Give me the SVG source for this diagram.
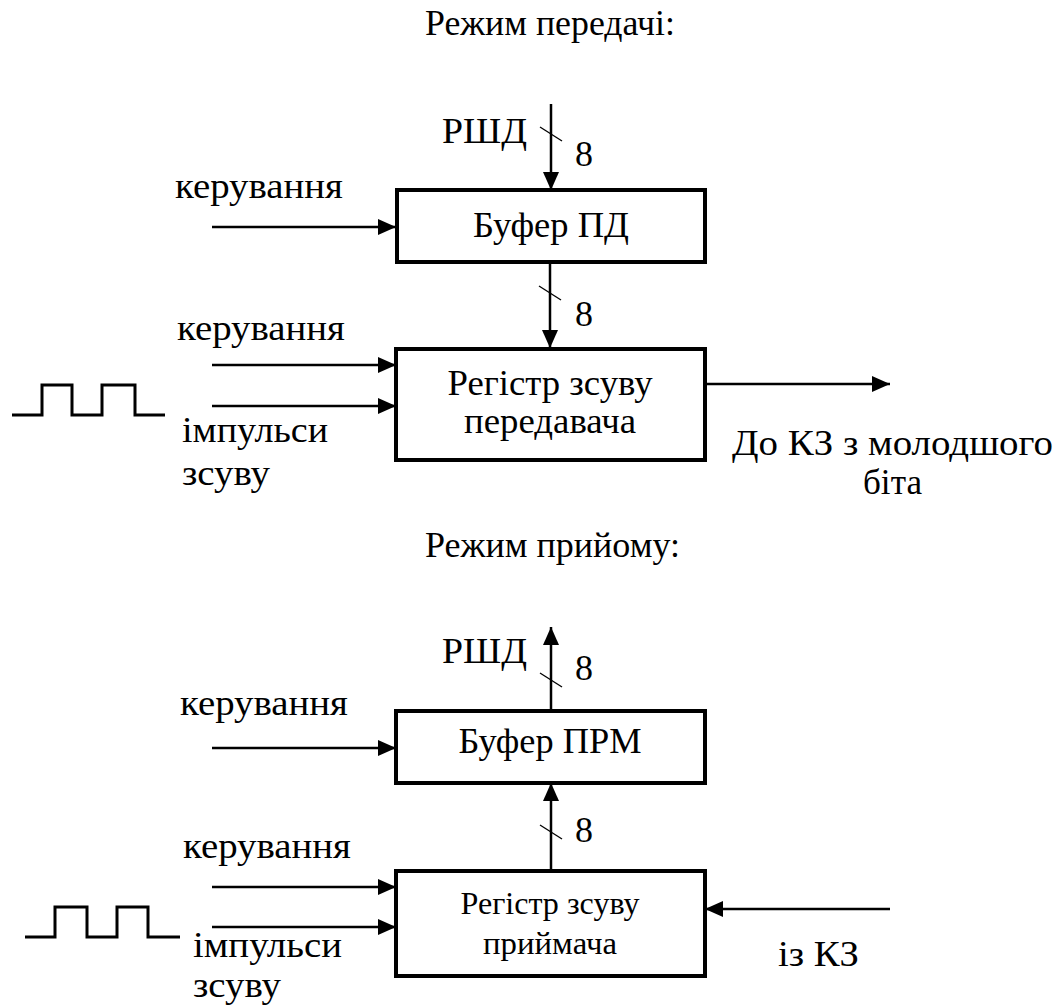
<svg xmlns="http://www.w3.org/2000/svg" width="1061" height="1005" viewBox="0 0 1061 1005">
<style>
text{font-family:'Liberation Serif','Times New Roman',serif;font-size:36px;fill:#000}
.c{text-anchor:middle}
.s{font-size:31px}
.box{fill:#fff;stroke:#000;stroke-width:4}
.ln{stroke:#000;stroke-width:2.5;fill:none}
.sl{stroke:#000;stroke-width:1.3;fill:none}
.pulse{stroke:#000;stroke-width:3;fill:none}
</style>
<defs>
<marker id="ah" markerUnits="userSpaceOnUse" markerWidth="18" markerHeight="16" refX="18" refY="8" orient="auto">
<path d="M0,0 L18,8 L0,16 Z" fill="#000"/>
</marker>
</defs>
<rect width="1061" height="1005" fill="#fff"/>
<text x="425" y="35" textLength="250" lengthAdjust="spacingAndGlyphs">Режим передачі:</text>
<text x="425" y="557" textLength="255" lengthAdjust="spacingAndGlyphs">Режим прийому:</text>

<g id="connectors">
<line class="ln" x1="551" y1="104" x2="551" y2="190" marker-end="url(#ah)"/>
<line class="sl" x1="540" y1="127" x2="562" y2="141"/>
<line class="ln" x1="212" y1="227" x2="396" y2="227" marker-end="url(#ah)"/>
<line class="ln" x1="550" y1="262" x2="550" y2="348" marker-end="url(#ah)"/>
<line class="sl" x1="539" y1="286" x2="561" y2="300"/>
<line class="ln" x1="212" y1="365" x2="396" y2="365" marker-end="url(#ah)"/>
<line class="ln" x1="212" y1="406" x2="396" y2="406" marker-end="url(#ah)"/>
<line class="ln" x1="705" y1="384" x2="890" y2="384" marker-end="url(#ah)"/>

<line class="ln" x1="551" y1="711" x2="551" y2="627" marker-end="url(#ah)"/>
<line class="sl" x1="540" y1="673" x2="562" y2="687"/>
<line class="ln" x1="212" y1="748" x2="396" y2="748" marker-end="url(#ah)"/>
<line class="ln" x1="551" y1="871" x2="551" y2="783" marker-end="url(#ah)"/>
<line class="sl" x1="540" y1="825" x2="562" y2="839"/>
<line class="ln" x1="212" y1="887" x2="396" y2="887" marker-end="url(#ah)"/>
<line class="ln" x1="212" y1="927" x2="396" y2="927" marker-end="url(#ah)"/>
<line class="ln" x1="890" y1="909" x2="705" y2="909" marker-end="url(#ah)"/>
</g>

<g id="labels">
<text x="442" y="143" textLength="85" lengthAdjust="spacingAndGlyphs">РШД</text>
<text x="575" y="166">8</text>
<text x="175" y="198" textLength="168" lengthAdjust="spacingAndGlyphs">керування</text>
<text x="575" y="326">8</text>
<text x="177" y="340" textLength="168" lengthAdjust="spacingAndGlyphs">керування</text>
<text x="182" y="442" textLength="146" lengthAdjust="spacingAndGlyphs">імпульси</text>
<text x="182" y="485" textLength="88" lengthAdjust="spacingAndGlyphs">зсуву</text>
<text x="732" y="455" textLength="321" lengthAdjust="spacingAndGlyphs">До КЗ з молодшого</text>
<text x="863" y="494" textLength="59" lengthAdjust="spacingAndGlyphs">біта</text>

<text x="442" y="663" textLength="85" lengthAdjust="spacingAndGlyphs">РШД</text>
<text x="575" y="680">8</text>
<text x="180" y="715" textLength="168" lengthAdjust="spacingAndGlyphs">керування</text>
<text x="575" y="842">8</text>
<text x="183" y="858" textLength="168" lengthAdjust="spacingAndGlyphs">керування</text>
<text x="193" y="957" textLength="149" lengthAdjust="spacingAndGlyphs">імпульси</text>
<text x="193" y="997" textLength="88" lengthAdjust="spacingAndGlyphs">зсуву</text>
<text x="778" y="966" textLength="81" lengthAdjust="spacingAndGlyphs">із КЗ</text>
</g>

<g id="pulse-tx"><polyline class="pulse" points="12,415 42,415 42,385 72,385 72,415 102,415 102,385 135,385 135,415 165,415"/></g>
<g id="pulse-rx"><polyline class="pulse" points="25,937 55,937 55,907 87,907 87,937 117,937 117,907 148,907 148,937 180,937"/></g>

<g id="buffer-pd">
<rect class="box" x="397" y="190" width="308" height="72"/>
<text class="c" x="551" y="237" textLength="156" lengthAdjust="spacingAndGlyphs">Буфер ПД</text>
</g>
<g id="shift-tx">
<rect class="box" x="396" y="349" width="309" height="111"/>
<text class="c" x="550" y="395" textLength="205" lengthAdjust="spacingAndGlyphs">Регістр зсуву</text>
<text class="c" x="550" y="433" textLength="172" lengthAdjust="spacingAndGlyphs">передавача</text>
</g>
<g id="buffer-prm">
<rect class="box" x="396" y="711" width="309" height="72"/>
<text class="c" x="550" y="753" textLength="183" lengthAdjust="spacingAndGlyphs">Буфер ПРМ</text>
</g>
<g id="shift-rx">
<rect class="box" x="396" y="871" width="309" height="105"/>
<text class="c s" x="550" y="914" textLength="179" lengthAdjust="spacingAndGlyphs">Регістр зсуву</text>
<text class="c s" x="550" y="954" textLength="134" lengthAdjust="spacingAndGlyphs">приймача</text>
</g>
</svg>
